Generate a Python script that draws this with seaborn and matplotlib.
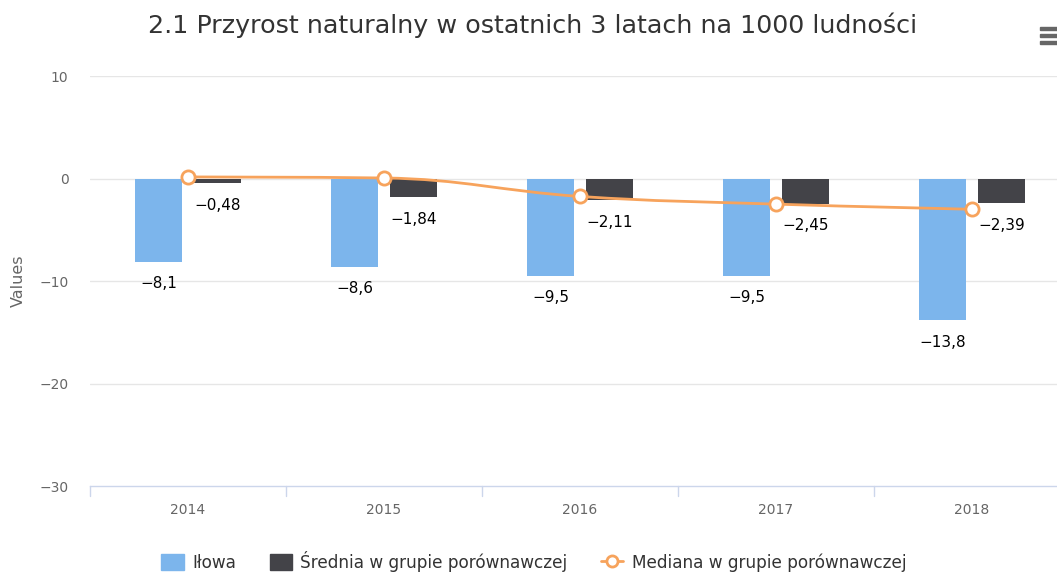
import matplotlib
matplotlib.use("Agg")
import matplotlib.pyplot as plt
from matplotlib.path import Path
from matplotlib.patches import PathPatch, Rectangle
from matplotlib.lines import Line2D
import seaborn as sns
import pandas as pd
import numpy as np

years = ["2014", "2015", "2016", "2017", "2018"]
ilowa = [-8.1, -8.6, -9.5, -9.5, -13.8]
srednia = [-0.48, -1.84, -2.11, -2.45, -2.39]
mediana = [0.15, 0.05, -1.75, -2.5, -3.0]
ilowa_labels = ["−8,1", "−8,6", "−9,5", "−9,5", "−13,8"]
srednia_labels = ["−0,48", "−1,84", "−2,11", "−2,45", "−2,39"]
series_names = ["Iłowa", "Średnia w grupie porównawczej", "Mediana w grupie porównawczej"]
yticks = [10, 0, -10, -20, -30]
ytick_labels = ["10", "0", "−10", "−20", "−30"]

c_blue = "#7cb5ec"
c_dark = "#434348"
c_orange = "#f7a35c"

sns.set_theme(style="white")
plt.rcParams["font.family"] = ["DejaVu Sans"]

W, H = 1057, 572
fig = plt.figure(figsize=(W / 100, H / 100), dpi=100)
ax = fig.add_axes([90 / W, (H - 486) / H, (1070 - 90) / W, (486 - 76) / H])

df = pd.DataFrame({
    "year": years * 2,
    "value": ilowa + srednia,
    "series": [series_names[0]] * 5 + [series_names[1]] * 5,
})
sns.barplot(data=df, x="year", y="value", hue="series",
            palette=[c_blue, c_dark], width=0.6, gap=0.2,
            legend=False, ax=ax, saturation=1, linewidth=0, zorder=2)

ax.set_xlim(-0.5, 4.5)
ax.set_ylim(-30, 10)

# labels
for cont, labs in zip(ax.containers, [ilowa_labels, srednia_labels]):
    ax.bar_label(cont, labels=labs, padding=10.5, fontsize=11, color="black", zorder=5)

# spline for median (Highcharts-style bezier)
xs = np.arange(len(mediana), dtype=float)
ys = np.array(mediana, dtype=float)
sm = 1.5
den = sm + 1
lc = [(xs[0], ys[0])]
rc = [(xs[0], ys[0])]
for i in range(1, len(xs) - 1):
    lx = (sm * xs[i] + xs[i - 1]) / den
    ly = (sm * ys[i] + ys[i - 1]) / den
    rx = (sm * xs[i] + xs[i + 1]) / den
    ry = (sm * ys[i] + ys[i + 1]) / den
    corr = ((ry - ly) * (rx - xs[i])) / (rx - lx) + ys[i] - ry
    ly += corr
    ry += corr
    if ly > ys[i - 1] and ly > ys[i]:
        ly = max(ys[i - 1], ys[i]); ry = 2 * ys[i] - ly
    elif ly < ys[i - 1] and ly < ys[i]:
        ly = min(ys[i - 1], ys[i]); ry = 2 * ys[i] - ly
    if ry > ys[i + 1] and ry > ys[i]:
        ry = max(ys[i + 1], ys[i]); ly = 2 * ys[i] - ry
    elif ry < ys[i + 1] and ry < ys[i]:
        ry = min(ys[i + 1], ys[i]); ly = 2 * ys[i] - ry
    lc.append((lx, ly))
    rc.append((rx, ry))
lc.append((xs[-1], ys[-1]))
rc.append((xs[-1], ys[-1]))
verts = [(xs[0], ys[0])]
codes = [Path.MOVETO]
for i in range(1, len(xs)):
    verts += [rc[i - 1], lc[i], (xs[i], ys[i])]
    codes += [Path.CURVE4] * 3
ax.add_patch(PathPatch(Path(verts, codes), fill=False, edgecolor=c_orange, lw=2, zorder=6))
ax.plot(xs, ys, linestyle="none", marker="o", markersize=9.5, markerfacecolor="white",
        markeredgecolor=c_orange, markeredgewidth=2, zorder=7)

# grid & axes styling
for yv in [10, 0, -10, -20]:
    ax.axhline(yv, color="#e6e6e6", lw=1, zorder=0)
for s in ["top", "right", "left"]:
    ax.spines[s].set_visible(False)
ax.spines["bottom"].set_color("#ccd6eb")
ax.spines["bottom"].set_linewidth(1)
ax.set_yticks(yticks)
ax.set_yticklabels(ytick_labels)
ax.tick_params(axis="y", length=0, pad=15.5, labelsize=10, labelcolor="#666666")
ax.set_xticks(np.arange(5))
ax.set_xticklabels(years)
ax.tick_params(axis="x", length=0, pad=12, labelsize=10, labelcolor="#666666")
for b in np.arange(-0.5, 5, 1.0):
    ax.plot([b, b], [0, -0.024], transform=ax.get_xaxis_transform(), color="#ccd6eb",
            lw=1, clip_on=False, zorder=3)
ax.set_xlabel("")
ax.set_ylabel("Values", fontsize=11.5, color="#666666")
ax.yaxis.set_label_coords(-64 / 980, 0.5)

fig.text(533 / W, 1 - 25 / H, "2.1 Przyrost naturalny w ostatnich 3 latach na 1000 ludności",
         ha="center", va="center", fontsize=18.3, color="#333333")

# menu icon
for yy in [28, 35, 42]:
    fig.patches.append(Rectangle((1040 / W, 1 - (yy + 2) / H), 20 / W, 3 / H,
                                 transform=fig.transFigure, color="#666666", figure=fig))

handles = [
    Rectangle((0, 0), 1, 1, color=c_blue),
    Rectangle((0, 0), 1, 1, color=c_dark),
    Line2D([0], [0], color=c_orange, lw=2, marker="o", markersize=8,
           markerfacecolor="white", markeredgecolor=c_orange, markeredgewidth=2),
]
fig.legend(handles, series_names, loc="center", bbox_to_anchor=(534 / W, 1 - 561 / H),
           ncol=3, frameon=False, fontsize=12.2, labelcolor="#333333",
           handlelength=1.3, handleheight=1.1, handletextpad=0.5, columnspacing=2.0)

fig.savefig("out.png", dpi=100)
